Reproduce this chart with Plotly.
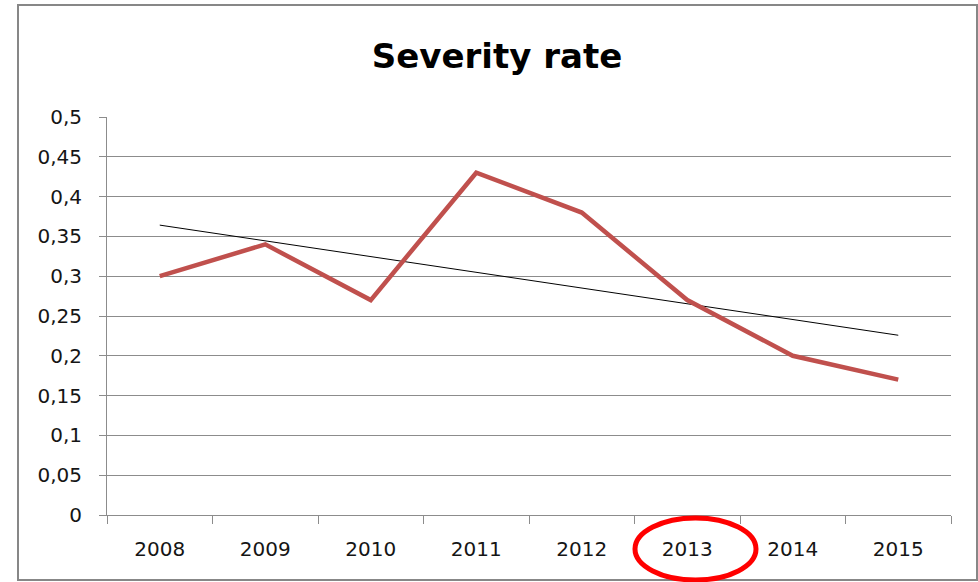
import plotly.graph_objects as go

years = ["2008", "2009", "2010", "2011", "2012", "2013", "2014", "2015"]
severity = [0.30, 0.34, 0.27, 0.43, 0.38, 0.27, 0.20, 0.17]
y_ticks = [0, 0.05, 0.1, 0.15, 0.2, 0.25, 0.3, 0.35, 0.4, 0.45, 0.5]
y_tick_labels = ["0", "0,05", "0,1", "0,15", "0,2", "0,25", "0,3", "0,35", "0,4", "0,45", "0,5"]

# linear trendline (least squares) over the category index
n = len(severity)
xs = list(range(n))
mx = sum(xs) / n
my = sum(severity) / n
slope = sum((x - mx) * (y - my) for x, y in zip(xs, severity)) / sum((x - mx) ** 2 for x in xs)
intercept = my - slope * mx
trend = [intercept + slope * x for x in xs]

W, H = 978, 582
L, R, T, B = 107, 27, 117, 67
pw, ph = W - L - R, H - T - B

def px(x):
    return (x - L) / pw

def py(y):
    return (H - B - y) / ph

FONT = "DejaVu Sans"
TXT = "#151515"

fig = go.Figure()
fig.add_trace(go.Scatter(x=years, y=trend, mode="lines",
                         line=dict(color="black", width=1), showlegend=False, hoverinfo="skip"))
fig.add_trace(go.Scatter(x=years, y=severity, mode="lines",
                         line=dict(color="#C0504D", width=4.5), showlegend=False))

fig.update_layout(
    width=W, height=H,
    margin=dict(l=L, r=R, t=T, b=B, pad=0),
    paper_bgcolor="white", plot_bgcolor="white",
    title=dict(text="<b>Severity rate</b>", x=497 / W, xanchor="center",
               y=1 - 56 / H, yanchor="middle",
               font=dict(family=FONT, size=34, color="black")),
    font=dict(family=FONT, size=20, color=TXT),
    xaxis=dict(type="category", range=[-0.5, 7.5], tickson="boundaries",
               ticks="outside", ticklen=8, tickcolor="#8C8C8C", tickwidth=1,
               showline=True, linecolor="#8C8C8C", linewidth=1,
               showgrid=False, zeroline=False, ticklabelstandoff=16,
               tickfont=dict(family=FONT, size=20, color=TXT)),
    yaxis=dict(range=[0, 0.5], tickvals=y_ticks, ticktext=y_tick_labels,
               ticks="outside", ticklen=7, tickcolor="#8C8C8C", tickwidth=1,
               showline=True, linecolor="#8C8C8C", linewidth=1,
               showgrid=True, gridcolor="#8C8C8C", gridwidth=1,
               zeroline=False, ticklabelstandoff=13,
               tickfont=dict(family=FONT, size=20, color=TXT)),
    shapes=[
        dict(type="rect", xref="paper", yref="paper",
             x0=px(18), x1=px(977), y0=py(580), y1=py(5),
             line=dict(color="#878787", width=2), fillcolor="rgba(0,0,0,0)", layer="above"),
        dict(type="circle", xref="paper", yref="paper",
             x0=px(635), x1=px(756), y0=py(580), y1=py(518),
             line=dict(color="#FF0000", width=5), fillcolor="rgba(0,0,0,0)", layer="above"),
    ],
)

fig.write_html("out.html")
